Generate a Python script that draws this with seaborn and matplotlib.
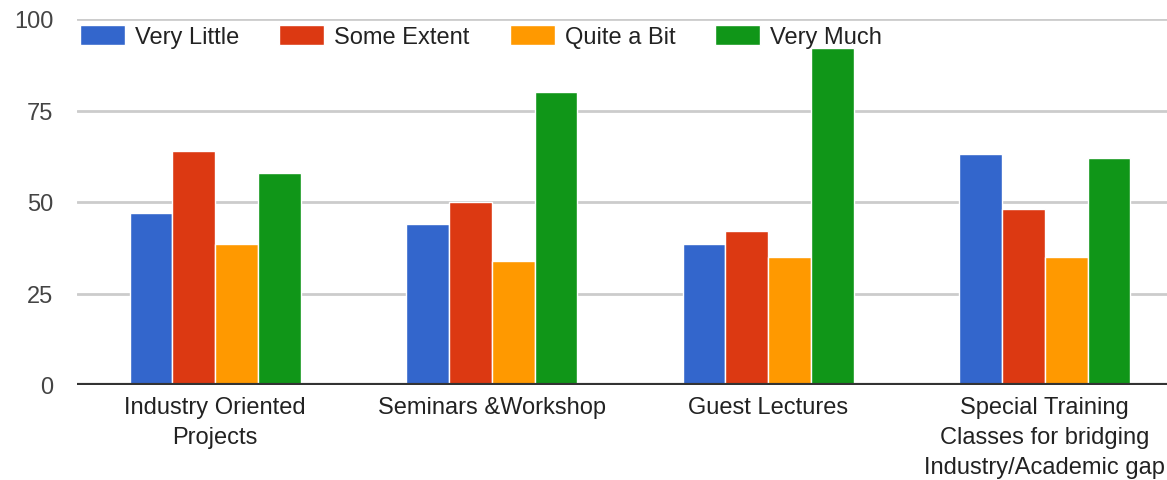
import pandas as pd
import numpy as np
import matplotlib
matplotlib.use("Agg")
import matplotlib.pyplot as plt
import seaborn as sns

# values
categories = ["Industry Oriented\nProjects", "Seminars &Workshop", "Guest Lectures",
              "Special Training\nClasses for bridging\nIndustry/Academic gap"]
levels = ["Very Little", "Some Extent", "Quite a Bit", "Very Much"]
very_little = [47, 44, 38.5, 63]
some_extent = [64, 50, 42, 48]
quite_a_bit = [38.5, 34, 35, 35]
very_much = [58, 80, 92, 62]
colors = ["#3366cc", "#dc3912", "#ff9900", "#109618"]

df = pd.DataFrame({
    "category": np.repeat(categories, 4),
    "level": levels * 4,
    "value": np.ravel(np.column_stack([very_little, some_extent, quite_a_bit, very_much])),
})

sns.set_style("white")
plt.rcParams["font.family"] = ["Liberation Sans", "DejaVu Sans"]

fig = plt.figure(figsize=(11.67, 4.81), dpi=100)
ax = fig.add_axes([77 / 1167, 95 / 481, 1 - 77 / 1167, 366 / 481])

sns.barplot(data=df, x="category", y="value", hue="level", hue_order=levels,
            palette=colors, width=0.62, edgecolor="white", linewidth=1,
            saturation=1, ax=ax, errorbar=None, zorder=3)

ax.set_ylim(0, 100)
ax.set_xlim(-0.5, 3.5 - 16 / 276)
ax.set_yticks([0, 25, 50, 75, 100])
ax.yaxis.grid(True, color="#cccccc", linewidth=2, zorder=0)
ax.axhline(0, color="#333333", linewidth=3, zorder=4)
for s in ax.spines.values():
    s.set_visible(False)
ax.tick_params(axis="y", length=0, pad=17, labelsize=17, labelcolor="#444444")
ax.tick_params(axis="x", length=0, pad=8, labelsize=17, labelcolor="#222222")
for lbl in ax.get_xticklabels():
    lbl.set_linespacing(1.47)
ax.set_xlabel("")
ax.set_ylabel("")

ax.legend(loc="center left", bbox_to_anchor=(0.003, 0.952), ncol=4, frameon=False,
          fontsize=17, handlelength=1.9, handleheight=0.9, handletextpad=0.42,
          columnspacing=1.7, borderaxespad=0, borderpad=0, labelcolor="#222222")

fig.savefig("out.png", dpi=100)
